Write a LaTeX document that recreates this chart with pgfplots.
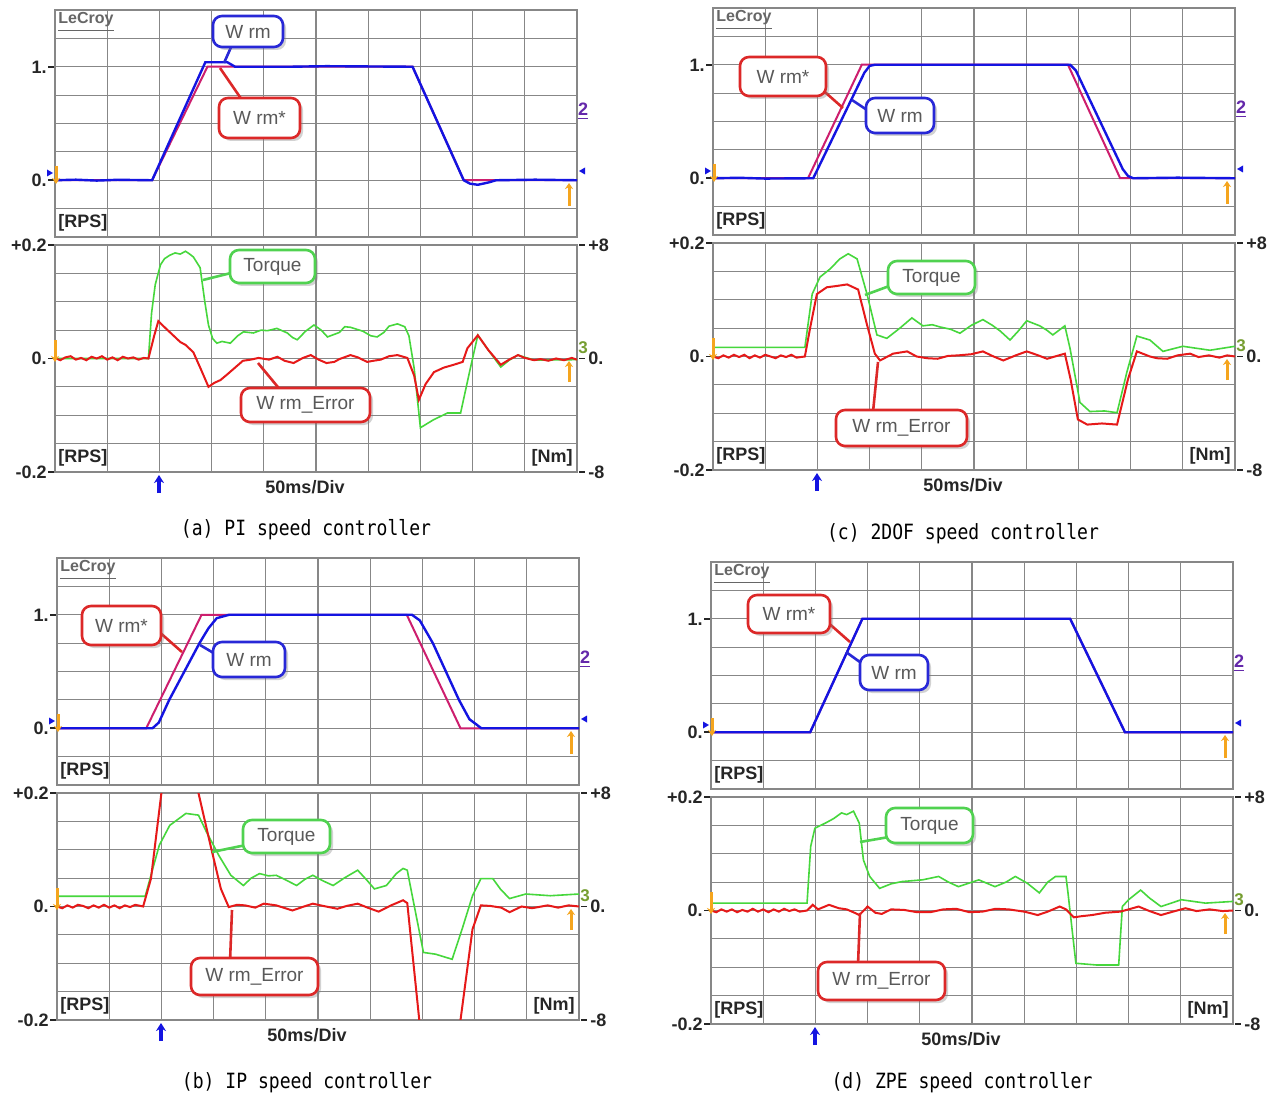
\documentclass[border=0pt]{standalone}
\usepackage{fontspec}
\setmainfont{Liberation Sans}
\newfontfamily\capfont{DejaVu Sans Mono}
\usepackage{pgfplots}
\pgfplotsset{compat=1.18}
\usetikzlibrary{shadows,arrows.meta}

\definecolor{cblue}{RGB}{20,20,225}
\definecolor{cred}{RGB}{230,25,25}
\definecolor{cmag}{RGB}{205,30,110}
\definecolor{cgreen}{RGB}{70,215,60}
\definecolor{cgrid}{RGB}{135,135,135}
\definecolor{corange}{RGB}{245,165,30}
\definecolor{cpurple}{RGB}{100,40,170}
\definecolor{bblue}{RGB}{40,40,215}
\definecolor{bred}{RGB}{220,40,40}
\definecolor{bgreen}{RGB}{80,210,80}

\pgfplotsset{
  osc/.style={scale only axis, width=261pt, height=113.5pt, xmin=0, xmax=10,
    xtick={0,1,2,3,4,5,6,7,8,9,10}, xticklabels={}, yticklabels={}, major tick length=0pt,
    grid=major, grid style={cgrid, line width=0.55pt},
    axis line style={cgrid, line width=0.7pt}, anchor=north west},
  up/.style={osc, ymin=-0.5, ymax=1.5, ytick={-0.5,-0.25,0,0.25,0.5,0.75,1,1.25,1.5}},
  low/.style={osc, ymin=-0.2, ymax=0.2, ytick={-0.2,-0.15,-0.1,-0.05,0,0.05,0.1,0.15,0.2}},
  wb/.style={cblue, line width=1.2pt, no marks},
  wm/.style={cmag, line width=1.0pt, no marks},
  tq/.style={cgreen, line width=0.8pt, no marks},
  er/.style={cred, line width=1.0pt, no marks},
}

\tikzset{
  lab/.style={font=\bfseries\fontsize{9}{9}\selectfont, text=black!85, inner sep=0pt},
  tk/.style={black!85, line width=0.8pt},
  co/.style={draw=#1, line width=1.3pt, rounded corners=4.5pt, fill=white, text=black!65,
    font=\fontsize{9.5}{10}\selectfont, inner sep=0pt,
    drop shadow={opacity=0.35, shadow xshift=1.5pt, shadow yshift=-1.5pt}},
  pt/.style={#1, line width=1.3pt},
  oarr/.style={corange, line width=1.5pt, -{Stealth[length=3pt,width=4pt]}},
}

\newcommand{\panel}[2]{%
\begin{scope}[shift={(#1,#2)}]
  \node[anchor=west, font=\bfseries\fontsize{8}{8}\selectfont, text=black!60, inner sep=0pt] at (3,12) {\underline{LeCroy}};
  \node[lab, anchor=east] at (-8,57) {1.}; \draw[tk] (-7,57) -- (-1,57);
  \node[lab, anchor=east] at (-8,170.25) {0.}; \draw[tk] (-7,170.25) -- (-1,170.25);
  \node[lab, anchor=west] at (3,213) {[RPS]};
  \node[lab, anchor=east] at (-8,235) {+0.2}; \draw[tk] (-7,235) -- (-1,235);
  \node[lab, anchor=east] at (-8,348.5) {0.}; \draw[tk] (-7,348.5) -- (-1,348.5);
  \node[lab, anchor=east] at (-8,462) {-0.2}; \draw[tk] (-7,462) -- (-1,462);
  \node[lab, anchor=west] at (3,448) {[RPS]};
  \node[lab, anchor=east] at (518,448) {[Nm]};
  \draw[tk] (524,235) -- (530,235); \node[lab, anchor=west] at (533,235) {+8};
  \draw[tk] (524,348.5) -- (530,348.5); \node[lab, anchor=west] at (533,348.5) {0.};
  \draw[tk] (524,462) -- (530,462); \node[lab, anchor=west] at (533,462) {-8};
  \node[lab] at (250,477) {50ms/Div};
  \draw[cblue, line width=1.6pt, -{Stealth[length=4pt,width=5pt]}] (104,483) -- (104,465);
  % small markers
  \draw[oarr] (1,156) -- (1,174);
  \fill[cblue] (-2,163) -- (-8,159.5) -- (-8,166.5) -- cycle;
  \fill[cblue] (524,161) -- (530,157.5) -- (530,164.5) -- cycle;
  \draw[oarr] (514,196) -- (514,173);
  \node[font=\bfseries\fontsize{9}{9}\selectfont, text=cpurple, inner sep=0pt] at (528,101) {\underline{2}};
  \draw[oarr] (0,330) -- (0,352);
  \draw[oarr] (514,372) -- (514,351);
  \node[font=\bfseries\fontsize{8.5}{8}\selectfont, text=cgreen!70!cred, inner sep=0pt] at (528,338) {3};
\end{scope}}

\begin{document}
\begin{tikzpicture}
\useasboundingbox (0,0) rectangle (636.5pt,-548pt);
\fill[white] (0,0) rectangle (636.5pt,-548pt);

% ================= (a) PI =================
\begin{axis}[up, at={(27.5pt,-5pt)}]
\addplot[wm] coordinates {(0,0) (1.86,0) (2.92,1) (6.85,1) (7.83,0) (10,0)};
\addplot[wb] coordinates {(0,0) (0.4,0.005) (0.8,-0.003) (1.2,0.004) (1.86,0) (2.88,1.04) (3.3,1.04) (3.45,1.0) (4.5,1.0) (5.2,1.005) (6.85,1.0) (7.83,0) (7.95,-0.03) (8.1,-0.04) (8.3,-0.02) (8.45,0) (9.2,0.005) (10,0)};
\end{axis}
\begin{axis}[low, at={(27.5pt,-122.5pt)}]
\addplot[tq] coordinates {(0,0) (1.79,0) (1.85,0.08) (1.92,0.13) (2.02,0.165) (2.1,0.176) (2.2,0.182) (2.3,0.186) (2.4,0.184) (2.5,0.189) (2.58,0.184) (2.65,0.179) (2.78,0.16) (2.87,0.1) (2.94,0.059) (3.02,0.035) (3.1,0.027) (3.2,0.03) (3.36,0.027) (3.5,0.04) (3.61,0.047) (3.8,0.045) (3.95,0.05) (4.07,0.049) (4.25,0.053) (4.45,0.045) (4.55,0.037) (4.64,0.033) (4.8,0.048) (4.96,0.059) (5.1,0.05) (5.22,0.038) (5.45,0.046) (5.55,0.056) (5.66,0.055) (5.9,0.048) (6.05,0.04) (6.17,0.038) (6.3,0.046) (6.4,0.057) (6.56,0.061) (6.7,0.056) (6.78,0.04) (6.88,-0.017) (7.0,-0.122) (7.25,-0.108) (7.52,-0.096) (7.77,-0.096) (7.95,-0.02) (8.1,0.041) (8.3,0.015) (8.54,-0.015) (8.7,-0.003) (8.87,0.006) (9.18,-0.003) (10,-0.002)};
\addplot[er] coordinates {(0,0.001) (0.1,-0.003) (0.2,0.002) (0.3,0.004) (0.4,-0.002) (0.5,0.001) (0.6,-0.003) (0.7,0.003) (0.8,0) (0.9,0.004) (1.0,-0.002) (1.1,0.002) (1.2,-0.003) (1.3,0.003) (1.4,0) (1.5,0.002) (1.6,-0.002) (1.7,0.001) (1.79,0) (1.9,0.04) (1.98,0.066) (2.1,0.055) (2.25,0.042) (2.4,0.029) (2.5,0.024) (2.65,0.011) (2.8,-0.02) (2.94,-0.05) (3.05,-0.043) (3.17,-0.038) (3.3,-0.028) (3.4,-0.02) (3.5,-0.012) (3.6,-0.004) (3.75,-0.002) (3.9,0.001) (4.1,-0.002) (4.26,0.003) (4.4,-0.004) (4.57,-0.008) (4.75,0.001) (4.9,0.006) (5.05,-0.002) (5.2,-0.008) (5.35,-0.006) (5.45,-0.001) (5.66,0.006) (5.8,0.002) (5.98,-0.006) (6.1,-0.004) (6.24,-0.002) (6.4,0.004) (6.56,0.006) (6.75,0.001) (6.88,-0.03) (6.97,-0.073) (7.1,-0.045) (7.26,-0.024) (7.45,-0.016) (7.64,-0.011) (7.81,-0.006) (7.9,0.018) (8.1,0.041) (8.3,0.015) (8.54,-0.011) (8.7,-0.002) (8.87,0.006) (9.0,0.001) (9.18,-0.003) (9.3,-0.001) (9.45,-0.004) (9.6,0.0) (9.75,-0.003) (9.9,0.001) (10,-0.002)};
\end{axis}

% ================= (c) 2DOF =================
\begin{axis}[up, at={(356.5pt,-4pt)}]
\addplot[wm] coordinates {(0,0) (1.82,0) (2.85,1) (6.8,1) (7.8,0) (10,0)};
\addplot[wb] coordinates {(0,0) (0.5,0.004) (1.0,-0.003) (1.92,0) (2.9,0.93) (3.0,0.99) (3.1,1.0) (5.0,1.0) (6.84,1) (6.95,0.95) (7.85,0.08) (7.95,0.02) (8.05,0) (8.9,0.005) (10,0)};
\end{axis}
\begin{axis}[low, at={(356.5pt,-121.5pt)}]
\addplot[tq] coordinates {(0,0.016) (1.76,0.016) (1.9,0.11) (2.05,0.14) (2.24,0.154) (2.43,0.172) (2.59,0.181) (2.76,0.172) (2.95,0.11) (3.14,0.038) (3.33,0.032) (3.58,0.05) (3.81,0.068) (4.02,0.054) (4.2,0.056) (4.35,0.052) (4.55,0.048) (4.73,0.041) (4.95,0.055) (5.17,0.065) (5.35,0.055) (5.5,0.045) (5.69,0.029) (5.85,0.045) (6.01,0.063) (6.26,0.054) (6.4,0.046) (6.51,0.038) (6.74,0.054) (6.84,0.014) (7.03,-0.081) (7.22,-0.097) (7.5,-0.096) (7.74,-0.099) (7.93,-0.027) (8.12,0.036) (8.37,0.029) (8.62,0.009) (9.0,0.018) (9.52,0.011) (10,0.018)};
\addplot[er] coordinates {(0,0) (0.1,-0.003) (0.2,0.002) (0.3,-0.002) (0.4,0.003) (0.5,-0.001) (0.6,0.003) (0.7,-0.003) (0.8,0.002) (0.9,-0.002) (1.0,0.003) (1.1,0) (1.2,-0.003) (1.3,0.002) (1.4,-0.001) (1.5,0.003) (1.6,-0.002) (1.76,0) (1.86,0.05) (1.99,0.11) (2.18,0.122) (2.35,0.124) (2.57,0.127) (2.78,0.118) (2.95,0.056) (3.1,0.005) (3.2,-0.007) (3.45,0.005) (3.72,0.009) (3.9,0) (4.1,-0.003) (4.3,-0.004) (4.5,0.001) (4.7,0.002) (4.95,0.004) (5.17,0.009) (5.35,0.001) (5.56,-0.007) (5.8,0.002) (6.01,0.009) (6.2,0.003) (6.4,-0.004) (6.74,0.005) (6.85,-0.04) (6.99,-0.111) (7.17,-0.12) (7.45,-0.118) (7.74,-0.12) (7.95,-0.04) (8.12,0.009) (8.37,0) (8.5,-0.003) (8.7,-0.004) (8.9,0.002) (9.14,0.005) (9.3,-0.001) (9.5,0.002) (9.7,-0.002) (9.85,0.002) (10,0)};
\end{axis}

% ================= (b) IP =================
\begin{axis}[up, at={(28.5pt,-279pt)}]
\addplot[wm] coordinates {(0,0) (1.71,0) (2.77,1) (6.7,1) (7.73,0) (10,0)};
\addplot[wb] coordinates {(0,0) (1.83,0) (1.95,0.05) (2.15,0.25) (2.73,0.75) (2.9,0.88) (3.06,0.97) (3.3,1.0) (6.8,1) (6.95,0.95) (7.2,0.75) (7.7,0.25) (7.9,0.08) (8.13,0) (10,0)};
\end{axis}
\begin{axis}[low, at={(28.5pt,-396.5pt)}]
\addplot[tq] coordinates {(0,0.018) (1.69,0.018) (1.8,0.055) (1.96,0.108) (2.16,0.143) (2.47,0.164) (2.71,0.161) (2.86,0.132) (3.1,0.09) (3.33,0.055) (3.57,0.037) (3.72,0.05) (3.88,0.058) (4.05,0.054) (4.2,0.055) (4.4,0.046) (4.59,0.037) (4.75,0.048) (4.9,0.055) (5.1,0.045) (5.29,0.037) (5.5,0.05) (5.76,0.064) (5.95,0.045) (6.08,0.031) (6.31,0.037) (6.5,0.058) (6.63,0.067) (6.71,0.064) (6.78,0.031) (7.02,-0.081) (7.25,-0.084) (7.57,-0.093) (7.76,-0.04) (7.96,0.019) (8.12,0.049) (8.35,0.049) (8.5,0.03) (8.67,0.014) (8.98,0.022) (9.45,0.019) (10,0.022)};
\addplot[er] coordinates {(0,0) (0.1,-0.003) (0.2,0.002) (0.3,-0.002) (0.4,0.003) (0.5,0.001) (0.6,-0.003) (0.7,0.002) (0.8,-0.002) (0.9,0.003) (1.0,-0.002) (1.1,0.002) (1.2,-0.003) (1.3,0.002) (1.4,-0.001) (1.5,0.003) (1.65,0) (1.8,0.049) (2.0,0.2) (2.15,0.3) (2.5,0.3) (2.71,0.2) (2.94,0.108) (3.14,0.031) (3.29,-0.001) (3.45,0.003) (3.6,0.002) (3.8,-0.002) (3.96,0.005) (4.2,0.002) (4.51,-0.007) (4.7,-0.001) (4.9,0.005) (5.1,0.001) (5.37,-0.004) (5.55,0.001) (5.76,0.005) (5.95,-0.002) (6.16,-0.009) (6.4,0.002) (6.63,0.011) (6.71,0.006) (6.94,-0.2) (7.1,-0.3) (7.55,-0.3) (7.73,-0.2) (7.96,-0.04) (8.12,0.002) (8.3,0.001) (8.51,-0.002) (8.67,-0.01) (8.9,0) (9.1,-0.003) (9.4,0.002) (9.6,-0.002) (9.8,0.002) (10,0)};
\end{axis}

% ================= (d) ZPE =================
\begin{axis}[up, at={(355.5pt,-281pt)}]
\addplot[wm] coordinates {(0,0) (1.9,0) (2.9,1) (6.88,1) (7.93,0) (10,0)};
\addplot[wb] coordinates {(0,0) (1.9,0) (2.9,1) (6.88,1) (7.93,0) (10,0)};
\end{axis}
\begin{axis}[low, at={(355.5pt,-398.5pt)}]
\addplot[tq] coordinates {(0,0.013) (1.84,0.013) (1.91,0.113) (1.99,0.145) (2.19,0.154) (2.35,0.162) (2.5,0.172) (2.6,0.169) (2.73,0.175) (2.84,0.154) (2.92,0.089) (3.04,0.06) (3.23,0.039) (3.45,0.047) (3.66,0.051) (4.05,0.054) (4.36,0.06) (4.55,0.05) (4.74,0.042) (5.13,0.054) (5.44,0.042) (5.65,0.05) (5.83,0.06) (6.06,0.048) (6.29,0.031) (6.45,0.05) (6.6,0.06) (6.8,0.06) (6.84,0.03) (6.99,-0.093) (7.38,-0.096) (7.81,-0.096) (7.88,0.007) (8.0,0.019) (8.23,0.036) (8.4,0.022) (8.62,0.007) (9.01,0.019) (9.47,0.013) (10,0.016)};
\addplot[er] coordinates {(0,0) (0.1,-0.003) (0.2,0.002) (0.3,-0.002) (0.4,0.002) (0.5,-0.003) (0.6,0.001) (0.7,-0.002) (0.8,0.003) (0.9,-0.002) (1.0,0.002) (1.1,-0.003) (1.2,0.002) (1.3,-0.002) (1.4,0.003) (1.5,-0.001) (1.6,0.002) (1.7,-0.002) (1.84,0) (1.95,0.01) (2.05,0.002) (2.26,0.01) (2.45,0.004) (2.6,0.002) (2.75,-0.004) (2.84,-0.008) (3.0,0.007) (3.15,-0.004) (3.27,-0.006) (3.45,0.002) (3.7,0.001) (3.95,-0.003) (4.2,-0.003) (4.45,0.002) (4.7,0.003) (4.95,-0.003) (5.2,-0.002) (5.45,0.003) (5.7,0.002) (6.0,-0.002) (6.26,-0.008) (6.45,-0.002) (6.68,0.007) (6.8,0.002) (6.95,-0.012) (7.1,-0.01) (7.3,-0.008) (7.55,-0.004) (7.84,-0.002) (8.0,0.002) (8.19,0.007) (8.4,-0.001) (8.62,-0.008) (8.85,-0.002) (9.09,0.004) (9.3,-0.001) (9.55,0.002) (9.8,-0.001) (10,0)};
\end{axis}

% ================= annotations (pixel units) =================
\begin{scope}[x=0.5pt, y=-0.5pt]
  \panel{55}{10}
  \panel{713}{8}
  \panel{57}{558}
  \panel{711}{562}

  % captions
  \node[font=\capfont\fontsize{10.5}{11}\selectfont] at (306,530) {\scalebox{0.86}[1]{(a) PI speed controller}};
  \node[font=\capfont\fontsize{10.5}{11}\selectfont] at (963,534) {\scalebox{0.86}[1]{(c) 2DOF speed controller}};
  \node[font=\capfont\fontsize{10.5}{11}\selectfont] at (307,1083) {\scalebox{0.86}[1]{(b) IP speed controller}};
  \node[font=\capfont\fontsize{10.5}{11}\selectfont] at (962,1083) {\scalebox{0.86}[1]{(d) ZPE speed controller}};

  % (a) callouts
  \draw[pt=bblue] (232,45) -- (224,63);
  \node[co=bblue, minimum width=35pt, minimum height=15.5pt] at (248,31.5) {W rm};
  \draw[pt=bred] (242,100) -- (220,68);
  \node[co=bred, minimum width=40.5pt, minimum height=20pt] at (259.5,118) {W rm*};
  \draw[pt=bgreen] (235,272) -- (203,280);
  \node[co=bgreen, minimum width=42.5pt, minimum height=16.5pt] at (272.5,266.5) {Torque};
  \draw[pt=bred] (282,392) -- (258,363);
  \node[co=bred, minimum width=64.5pt, minimum height=17pt] at (305.5,405) {W rm\_Error};

  % (c) callouts
  \draw[pt=bred] (818,86) -- (843,108);
  \node[co=bred, minimum width=43pt, minimum height=19.5pt] at (783,76.5) {W rm*};
  \draw[pt=bblue] (870,112) -- (852,100);
  \node[co=bblue, minimum width=34pt, minimum height=17.5pt] at (900,115.5) {W rm};
  \draw[pt=bgreen] (892,285) -- (865,295);
  \node[co=bgreen, minimum width=43.5pt, minimum height=16.5pt] at (931.5,277.5) {Torque};
  \draw[pt=bred] (873,412) -- (878,362);
  \node[co=bred, minimum width=65.5pt, minimum height=18pt] at (901.5,428) {W rm\_Error};

  % (b) callouts
  \draw[pt=bred] (157,630) -- (182,652);
  \node[co=bred, minimum width=39.5pt, minimum height=19.5pt] at (121.5,625.5) {W rm*};
  \draw[pt=bblue] (217,655) -- (200,645);
  \node[co=bblue, minimum width=36pt, minimum height=17.5pt] at (249,659.5) {W rm};
  \draw[pt=bgreen] (246,845) -- (212,852);
  \node[co=bgreen, minimum width=43.5pt, minimum height=16.5pt] at (286.5,836.5) {Torque};
  \draw[pt=bred] (230,962) -- (232,910);
  \node[co=bred, minimum width=63.5pt, minimum height=18.5pt] at (254.5,976.5) {W rm\_Error};

  % (d) callouts
  \draw[pt=bred] (825,620) -- (850,642);
  \node[co=bred, minimum width=41pt, minimum height=19pt] at (789,614) {W rm*};
  \draw[pt=bblue] (864,665) -- (846,652);
  \node[co=bblue, minimum width=34pt, minimum height=17.5pt] at (894,672.5) {W rm};
  \draw[pt=bgreen] (889,837) -- (860,842);
  \node[co=bgreen, minimum width=43.5pt, minimum height=17.5pt] at (929.5,825.5) {Torque};
  \draw[pt=bred] (858,965) -- (860,913);
  \node[co=bred, minimum width=63.5pt, minimum height=19pt] at (881.5,981) {W rm\_Error};
\end{scope}
\end{tikzpicture}
\end{document}
